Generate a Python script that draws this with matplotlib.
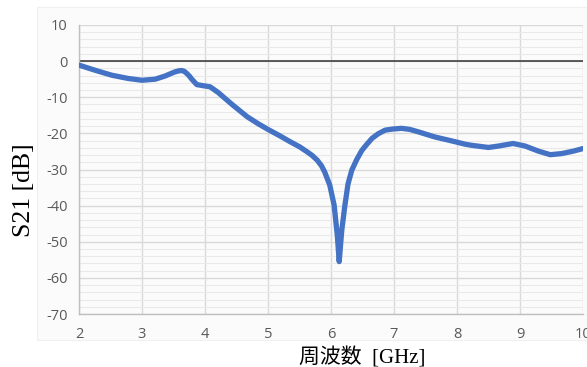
import matplotlib.pyplot as plt
from matplotlib.patches import Rectangle
from matplotlib.ticker import MultipleLocator

plt.rcParams["axes.unicode_minus"] = False

# S21 measurement (frequency in GHz, transmission in dB)
freq = [2.00, 2.25, 2.52, 2.78, 3.00, 3.21, 3.37, 3.45, 3.52, 3.58,
        3.63, 3.67, 3.71, 3.75, 3.79, 3.87, 3.97, 4.08, 4.21, 4.43,
        4.67, 4.85, 5.02, 5.18, 5.35, 5.50, 5.62, 5.70, 5.78, 5.85,
        5.90, 5.98, 6.05, 6.10, 6.13, 6.17, 6.22, 6.27, 6.33, 6.38,
        6.41, 6.49, 6.57, 6.65, 6.75, 6.86, 6.98, 7.12, 7.25, 7.39,
        7.65, 7.92, 8.13, 8.23, 8.50, 8.66, 8.89, 9.08, 9.29, 9.48,
        9.66, 9.85, 10.0]
s21 = [-1.1, -2.5, -3.9, -4.8, -5.3, -5.0, -4.1, -3.5, -3.0, -2.7,
       -2.6, -2.8, -3.4, -4.1, -5.0, -6.5, -6.8, -7.1, -8.7, -12.0,
       -15.4, -17.4, -19.1, -20.6, -22.3, -23.7, -25.1, -26.1, -27.4, -29.0,
       -30.7, -34.3, -39.9, -48.2, -55.5, -47.0, -40.0, -34.0, -30.2, -28.3,
       -27.2, -24.7, -23.0, -21.4, -20.1, -19.1, -18.8, -18.6, -18.9, -19.6,
       -21.0, -22.1, -23.0, -23.3, -23.9, -23.5, -22.8, -23.5, -24.9, -25.9,
       -25.6, -24.9, -24.2]

x_ticks = [2, 3, 4, 5, 6, 7, 8, 9, 10]
y_ticks = [10, 0, -10, -20, -30, -40, -50, -60, -70]

fig = plt.figure(figsize=(5.87, 3.67), dpi=100)
# faint chart-area background
fig.patches.append(Rectangle((37 / 587, 1 - 340 / 367), 550 / 587, 333 / 367,
                             transform=fig.transFigure, facecolor="#fbfbfb",
                             edgecolor="#f0f0f0", lw=0.8, zorder=-1))

ax = fig.add_axes([79 / 587, 1 - 314 / 367, 504 / 587, 289 / 367])
ax.set_zorder(1)
ax.set_facecolor("none")

ax.set_xlim(2, 10)
ax.set_ylim(-70, 10)
ax.set_xticks(x_ticks)
ax.set_yticks(y_ticks)
ax.yaxis.set_minor_locator(MultipleLocator(2))

ax.grid(True, which="major", color="#d9d9d9", lw=1.0)
ax.grid(True, which="minor", axis="y", color="#e9e9e9", lw=0.8)
ax.set_axisbelow(True)

ax.axhline(0, color="#404040", lw=1.2, zorder=2)

ax.plot(freq, s21, color="#4472c4", lw=3.8, solid_joinstyle="round",
        solid_capstyle="round", zorder=3)

for side in ["top", "right"]:
    ax.spines[side].set_visible(False)
for side in ["left", "bottom"]:
    ax.spines[side].set_color("#bfbfbf")
    ax.spines[side].set_linewidth(1.0)

ax.tick_params(which="both", length=0, labelsize=10.5, labelcolor="#595959")
ax.tick_params(axis="y", pad=8)
ax.tick_params(axis="x", pad=9)
for lbl in ax.get_xticklabels() + ax.get_yticklabels():
    lbl.set_family("Open Sans")

fig.text(24 / 587, 1 - 190 / 367, "S21 [dB]", rotation=90, ha="center",
         va="center", fontsize=18.5, family="Liberation Serif")
fig.text(362 / 587, 1 - 358 / 367, "周波数  [GHz]", ha="center", va="center",
         fontsize=15, family=["Liberation Serif", "Noto Sans CJK JP"])

fig.savefig("out.png", dpi=100)
